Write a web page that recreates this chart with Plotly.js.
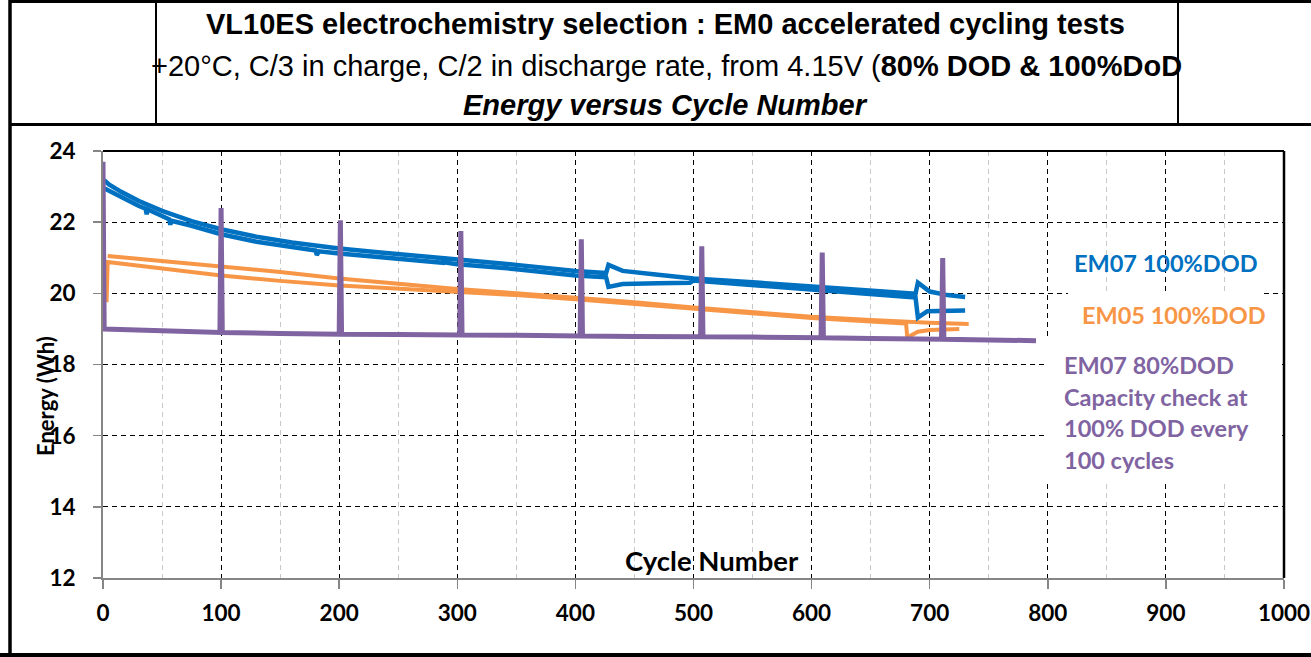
<!DOCTYPE html>
<html>
<head>
<meta charset="utf-8">
<script src="https://cdn.plot.ly/plotly-3.0.1.min.js"></script>
<style>html,body{margin:0;padding:0;background:#fff;}#chart{width:1311px;height:657px;}</style>
</head>
<body>
<div id="chart"></div>
<script>
// ---------- DATA ----------
const titleLine1 = "VL10ES electrochemistry selection : EM0 accelerated cycling tests";
const titleLine2a = "+20°C, C/3 in charge, C/2 in discharge rate, from 4.15V (";
const titleLine2b = "80% DOD &amp; 100%DoD";
const titleLine3 = "Energy versus Cycle Number";
const xTitle = "Cycle Number";
const yTitle = "Energy (Wh)";
const labelEM07_100 = "EM07 100%DOD";
const labelEM05_100 = "EM05 100%DOD";
const labelEM07_80 = ["EM07 80%DOD", "Capacity check at", "100% DOD every", "100 cycles"];

// EM07 100%DOD - upper cell
const em07aCycle  = [1, 5, 15, 30, 50, 75, 100, 130, 160, 200, 235, 270, 300, 350, 400, 426, 428, 440, 470, 500, 550, 600, 650, 688, 690, 700, 715, 730];
const em07aEnergy = [23.18, 23.06, 22.86, 22.6, 22.32, 22.03, 21.8, 21.59, 21.43, 21.26, 21.15, 21.05, 20.96, 20.8, 20.63, 20.57, 20.8, 20.63, 20.52, 20.42, 20.31, 20.19, 20.09, 19.99, 20.3, 20.05, 19.95, 19.9];
// EM07 100%DOD - lower cell
const em07bCycle  = [1, 5, 15, 30, 36, 37, 38, 50, 56, 57, 58, 75, 100, 130, 160, 180, 181, 183, 200, 235, 270, 288, 289, 291, 300, 350, 400, 426, 428, 440, 470, 497, 500, 550, 600, 650, 688, 690, 698, 730];
const em07bEnergy = [22.95, 22.88, 22.72, 22.46, 22.38, 22.22, 22.36, 22.18, 22.08, 21.93, 22.04, 21.9, 21.66, 21.45, 21.3, 21.2, 21.08, 21.18, 21.12, 21.02, 20.92, 20.86, 21.0, 20.86, 20.82, 20.68, 20.5, 20.45, 20.18, 20.26, 20.28, 20.3, 20.36, 20.23, 20.1, 20.0, 19.88, 19.32, 19.5, 19.52];

// EM05 100%DOD - upper cell
const em05aCycle  = [4, 20, 50, 100, 150, 200, 240, 300, 350, 400, 450, 500, 550, 600, 650, 680, 700, 733];
const em05aEnergy = [21.05, 21.0, 20.93, 20.75, 20.6, 20.42, 20.3, 20.12, 20.0, 19.88, 19.75, 19.6, 19.47, 19.34, 19.25, 19.19, 19.17, 19.14];
// EM05 100%DOD - lower cell
const em05bCycle  = [3, 4, 20, 50, 100, 150, 200, 240, 300, 350, 400, 450, 500, 550, 600, 650, 680, 681, 690, 700, 725];
const em05bEnergy = [19.75, 20.88, 20.82, 20.7, 20.5, 20.35, 20.22, 20.15, 20.05, 19.95, 19.83, 19.7, 19.55, 19.43, 19.31, 19.21, 19.15, 18.76, 18.92, 18.97, 19.0];

// EM07 80%DOD with capacity checks at 100% DOD every 100 cycles
const em07_80Cycle  = [0, 1, 50, 99, 100, 101, 150, 200, 201, 202, 250, 302, 303, 304, 350, 404, 405, 406, 450, 506, 507, 508, 550, 608, 609, 610, 650, 710, 711, 712, 750, 790];
const em07_80Energy = [23.7, 19.0, 18.95, 18.9, 22.4, 18.9, 18.87, 18.85, 22.05, 18.85, 18.84, 18.83, 21.75, 18.83, 18.82, 18.8, 21.52, 18.8, 18.79, 18.78, 21.32, 18.78, 18.77, 18.75, 21.15, 18.75, 18.73, 18.71, 20.99, 18.71, 18.69, 18.67];

const xTickVals = [0, 100, 200, 300, 400, 500, 600, 700, 800, 900, 1000];
const yTickVals = [12, 14, 16, 18, 20, 22, 24];

// ---------- STYLE ----------
const BLUE = "#0070C0", ORANGE = "#F79646", PURPLE = "#8064A2";
const BODY_FONT = "Lato, 'Open Sans', sans-serif";
const TITLE_FONT = "'Liberation Sans', Arial, sans-serif";

const W = 1311, H = 657;
const L = 103, R = 1284, T = 151, B = 578;
function px(x) { return (x - L) / (R - L); }
function py(y) { return (B - y) / (B - T); }

function line(x0, y0, x1, y1, w, c) {
  return {type: "line", xref: "paper", yref: "paper", x0: px(x0), y0: py(y0), x1: px(x1), y1: py(y1),
          line: {color: c || "#000", width: w}, layer: "above"};
}
function box(x0, y0, x1, y1) {
  return {type: "rect", xref: "paper", yref: "paper", x0: px(x0), y0: py(y0), x1: px(x1), y1: py(y1),
          line: {width: 0}, fillcolor: "#fff", layer: "above"};
}
function label(text, x, y, size, color, extra) {
  return Object.assign({text: text, x: px(x), y: py(y), xref: "paper", yref: "paper", showarrow: false,
    xanchor: "center", yanchor: "middle", font: {family: BODY_FONT, size: size, color: color || "#000"}}, extra || {});
}

const traces = [
  {x: em05aCycle, y: em05aEnergy, mode: "lines", line: {color: ORANGE, width: 4}, hoverinfo: "skip"},
  {x: em05bCycle, y: em05bEnergy, mode: "lines", line: {color: ORANGE, width: 4}, hoverinfo: "skip"},
  {x: em07aCycle, y: em07aEnergy, mode: "lines", line: {color: BLUE, width: 4.5}, hoverinfo: "skip"},
  {x: em07bCycle, y: em07bEnergy, mode: "lines", line: {color: BLUE, width: 4.5}, hoverinfo: "skip"},
  {x: em07_80Cycle, y: em07_80Energy, mode: "lines", line: {color: PURPLE, width: 5}, hoverinfo: "skip"}
];

const dashPat = "5px,4px";
const axisCommon = {
  showline: true, linecolor: "#868686", linewidth: 2,
  ticks: "outside", tickcolor: "#868686", tickwidth: 1.5,
  showgrid: true, gridcolor: "#000", gridwidth: 1, griddash: dashPat,
  zeroline: false, fixedrange: true,
  tickfont: {family: BODY_FONT, size: 22.5, color: "#000", weight: "bold"}
};

const annotations = [
  label("<b>" + titleLine1 + "</b>", 665, 24, 29, "#000", {font: {family: TITLE_FONT, size: 29, color: "#000"}}),
  label(titleLine2a + "<b>" + titleLine2b + "</b>", 666, 66, 29, "#000", {font: {family: TITLE_FONT, size: 29, color: "#000"}}),
  label("<b><i>" + titleLine3 + "</i></b>", 665, 105, 29, "#000", {font: {family: TITLE_FONT, size: 29, color: "#000"}}),
  label("<b>" + xTitle + "</b>", 712, 560, 27.5),
  label("<b>" + yTitle + "</b>", 45, 396, 22, "#000", {textangle: -90}),
  label("<b>" + labelEM07_100 + "</b>", 1166, 263, 23.5, BLUE),
  label("<b>" + labelEM05_100 + "</b>", 1174, 315, 23.5, ORANGE)
];
const purpleY = [365, 397, 428, 460];
labelEM07_80.forEach((t, i) => {
  annotations.push(label("<b>" + t + "</b>", 1062, purpleY[i], 23.5, PURPLE, {xanchor: "left"}));
});

const shapes = [
  box(1068, 291, 1264, 338),
  box(1044, 340, 1278, 483),
  // plot frame top & right
  line(L, T, R, T, 2, "#000"),
  line(R, T, R, B, 2.5, "#000"),
  // outer frame
  line(9, 1.5, W, 1.5, 3),
  line(10, 0, 10, H, 3.5),
  line(0, 655, W, 655, 4),
  line(9, 124.5, W, 124.5, 3),
  line(156, 0, 156, 124, 2),
  line(1178, 0, 1178, 124, 2)
];

const layout = {
  width: W, height: H,
  margin: {l: L, r: W - R, t: T, b: H - B, pad: 0},
  paper_bgcolor: "#fff", plot_bgcolor: "#fff",
  showlegend: false,
  xaxis: Object.assign({}, axisCommon, {
    range: [0, 1000], tickmode: "array", tickvals: xTickVals, ticktext: xTickVals.map(String), ticklen: 9,
    ticklabelstandoff: 5,
    minor: {dtick: 50, tick0: 0, showgrid: true, gridcolor: "#c8c8c8", gridwidth: 1, griddash: dashPat, ticks: ""}
  }),
  yaxis: Object.assign({}, axisCommon, {
    range: [12, 24], tickmode: "array", tickvals: yTickVals, ticktext: yTickVals.map(String), ticklen: 8,
    ticklabelstandoff: 13
  }),
  annotations: annotations,
  shapes: shapes
};

Plotly.newPlot("chart", traces, layout, {staticPlot: true, displayModeBar: false});
</script>
</body>
</html>
